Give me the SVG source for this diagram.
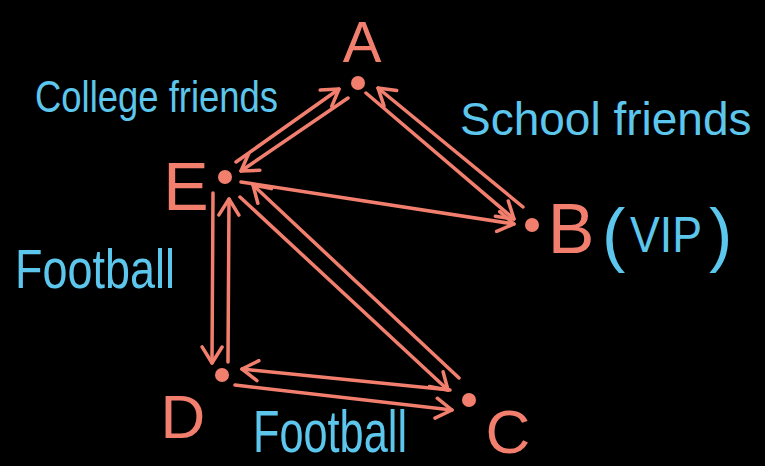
<svg xmlns="http://www.w3.org/2000/svg" width="765" height="466" viewBox="0 0 765 466">
<style>
.bg{fill:#000}
.edge{stroke:#f27f6e;stroke-width:3.5;fill:none;stroke-linecap:round;marker-end:url(#arr)}
.dot{fill:#f27f6e}
.node{font-family:"Liberation Sans",Arial,sans-serif;fill:#f27f6e;text-anchor:middle}
.lbl{font-family:"Liberation Sans",Arial,sans-serif;fill:#5cc6ec}
</style>
<defs>
<marker id="arr" viewBox="0 0 24 24" refX="22" refY="12" markerWidth="24" markerHeight="24" markerUnits="userSpaceOnUse" orient="auto">
<path d="M6,2 L22,12 L6,22" fill="none" stroke="#f27f6e" stroke-width="3.5" stroke-linecap="round" stroke-linejoin="round"/>
</marker>
</defs>
<rect class="bg" x="0" y="0" width="765" height="466"/>
<g id="connectors">
<line class="edge" x1="236" y1="162" x2="339" y2="89"/>
<line class="edge" x1="348" y1="98" x2="241" y2="171"/>
<line class="edge" x1="366" y1="93" x2="514" y2="219"/>
<line class="edge" x1="523" y1="207" x2="378" y2="88"/>
<line class="edge" x1="241" y1="182" x2="514" y2="224"/>
<line class="edge" x1="213" y1="193" x2="212" y2="363"/>
<line class="edge" x1="228" y1="362" x2="229" y2="199"/>
<line class="edge" x1="240" y1="197" x2="448" y2="390"/>
<line class="edge" x1="459" y1="378" x2="253" y2="185"/>
<line class="edge" x1="450" y1="390" x2="242" y2="369"/>
<line class="edge" x1="235" y1="385" x2="452" y2="410"/>
</g>
<g id="A"><circle class="dot" cx="358" cy="83" r="7"/><text class="node" x="362" y="62" font-size="58">A</text></g>
<g id="E"><circle class="dot" cx="225" cy="177" r="7"/><text class="node" x="186" y="210" font-size="68">E</text></g>
<g id="B"><circle class="dot" cx="532" cy="225" r="7"/><text class="node" x="571" y="253" font-size="70">B</text>
<text class="lbl" x="602" y="258" font-size="70">(</text>
<text class="lbl" x="630" y="252" font-size="50" textLength="72" lengthAdjust="spacingAndGlyphs">VIP</text>
<text class="lbl" x="709" y="258" font-size="70">)</text></g>
<g id="D"><circle class="dot" cx="222" cy="375" r="7"/><text class="node" x="183" y="438" font-size="62">D</text></g>
<g id="C"><circle class="dot" cx="469" cy="400" r="7"/><text class="node" x="508" y="453" font-size="62">C</text></g>
<g id="labels">
<text class="lbl" x="35" y="112" font-size="44" textLength="243" lengthAdjust="spacingAndGlyphs">College friends</text>
<text class="lbl" x="460" y="135" font-size="46">School friends</text>
<text class="lbl" x="15" y="288" font-size="55" textLength="160" lengthAdjust="spacingAndGlyphs">Football</text>
<text class="lbl" x="253" y="452" font-size="60" textLength="154" lengthAdjust="spacingAndGlyphs">Football</text>
</g>
</svg>
